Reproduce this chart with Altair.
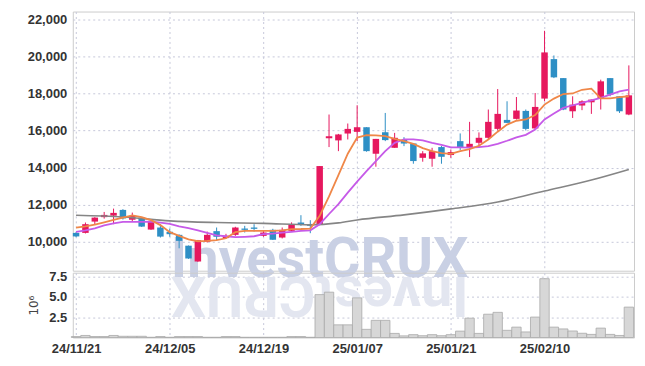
import altair as alt
import pandas as pd

# ---- data ----
tick_idx = [0, 10, 20, 30, 40, 50]
tick_lbl = ["24/11/21", "24/12/05", "24/12/19", "25/01/07", "25/01/21", "25/02/10"]
price_ticks = [10000, 12000, 14000, 16000, 18000, 20000, 22000]
vol_ticks = [2.5, 5.0, 7.5]

opens = [10480,10480,11090,11330,11410,11720,11190,11305,10660,10770,
         10540,10375,9790,8940,10000,10575,10200,10375,10715,10770,
         10320,10645,10230,10590,11040,10950,10950,15590,15470,15840,
         15930,16180,14750,15910,15070,15500,15305,14530,14480,15110,
         14680,15430,15110,15340,15610,16090,16575,16630,17060,16115,
         17725,19855,18830,17040,17350,17525,17725,18830,17850,16865]
highs = [10520,11040,11330,11610,11790,11760,11575,11330,11130,10950,
         10715,10400,9800,10100,10550,10770,10430,10810,10860,10950,
         10590,10700,10770,11050,11435,11165,14085,16865,15820,16380,
         17365,16180,15550,16950,15875,15645,15305,14890,15070,15165,
         14980,15845,16470,15900,17135,18240,17580,17810,17135,18025,
         21380,20050,18830,17850,17635,17670,18745,18830,17850,19515]
lows = [10250,10450,10950,11250,10950,11200,11100,10800,10645,10230,
        10270,9650,9080,8920,9960,10050,10170,10320,10500,10550,
        10270,10100,10180,10540,10860,10465,10900,15110,14890,15520,
        15430,14860,14050,15430,15070,15160,14210,14320,14050,14210,
        14530,14950,14570,15110,15520,16005,16415,16595,16005,16060,
        17580,18830,17100,16680,17100,16900,17135,17850,16950,16830]
closes = [10290,10950,11305,11450,11560,11260,11400,10820,11130,10280,
          10410,10050,9100,10090,10375,10270,10320,10770,10645,10700,
          10500,10110,10645,10930,10910,10860,14085,15700,15790,16090,
          16180,14890,15550,15485,15610,15300,14355,14770,14890,14585,
          14840,15070,15285,15610,16470,16900,16415,17080,16090,17275,
          20215,18870,17135,17400,17580,17670,18655,17940,17040,17900]
volume_m = [0.12,0.25,0.12,0.12,0.25,0.15,0.15,0.15,0.03,0.12,
            0.03,0.12,0.12,0.12,0.03,0.03,0.12,0.12,0.03,0.03,
            0.03,0.03,0.03,0.12,0.12,0.03,5.25,5.55,1.55,1.55,
            4.85,1.0,2.1,2.1,0.5,0.2,0.35,0.22,0.35,0.22,
            0.35,0.78,2.37,0.5,2.85,3.08,0.88,1.27,0.68,2.5,
            7.2,1.27,1.05,0.8,0.52,0.38,1.15,0.38,0.25,3.72]
ma_orange = [10770,10830,10930,11050,11180,11300,11420,11330,11170,10900,
             10520,10320,10130,10030,10050,10090,10190,10520,10590,10590,
             10590,10590,10620,10680,10690,10715,11400,12450,13600,14750,
             15620,15750,15735,15700,15555,15430,15285,15050,14890,14785,
             14740,14890,15000,15180,15520,15940,16320,16530,16600,16840,
             17400,17725,17970,18000,18200,18260,17740,17740,17800,17850]
ma_purple = [10530,10620,10730,10880,10990,11070,11080,11080,11090,11040,
             10970,10830,10735,10620,10480,10350,10300,10250,10270,10300,
             10410,10440,10500,10540,10590,10620,10950,11500,12030,12650,
             13250,13810,14355,14890,15340,15520,15520,15465,15340,15230,
             15090,15090,15080,15110,15165,15285,15450,15630,15770,16060,
             16600,16920,17220,17365,17490,17630,17760,17940,18115,18205]
gray_idx = [0, 5, 10, 15, 20, 25, 28, 30, 35, 40, 45, 50, 55, 59]
gray_val = [11430, 11340, 11130, 11040, 10995, 10915, 11020, 11180, 11450, 11775, 12150, 12740, 13330, 13900]

PINK = "#e6185e"
BLUE = "#2e8fc5"
ORANGE = "#ef8748"
PURPLE = "#c65ae8"
GRAY = "#858585"
GRID = "#c6c8da"
LABEL_FONT = "Liberation Sans"

n = len(opens)
df = pd.DataFrame({"i": list(range(n)), "open": opens, "high": highs, "low": lows,
                   "close": closes, "vol": volume_m, "ma5": ma_orange, "ma10": ma_purple})
gdf = pd.DataFrame({"i": gray_idx, "v": gray_val})
wm = pd.DataFrame({"i": [26.0], "p": [8100], "v": [7.36], "t": ["InvestCRUX"]})

label_expr = " : ".join(f"datum.value == {k} ? '{s}'" for k, s in zip(tick_idx, tick_lbl)) + " : ''"

xscale = alt.Scale(domain=[-0.35, 59.55], nice=False, zero=False, padding=0)
pscale = alt.Scale(domain=[8440, 22420], nice=False, zero=False, padding=0)
vscale = alt.Scale(domain=[0, 7.93], nice=False, padding=0)

x_axis_top = alt.Axis(values=tick_idx, labels=False, ticks=False, domain=False, title=None,
                      grid=True, gridColor=GRID, gridDash=[2, 3])
x_axis_bot = alt.Axis(values=tick_idx, labelExpr=label_expr, ticks=False, domain=False,
                      title=None, labelPadding=5, grid=True, gridColor=GRID, gridDash=[2, 3])
p_axis = alt.Axis(values=price_ticks, format=",d", title=None, ticks=False, domain=False,
                  labelPadding=6, minExtent=64, maxExtent=64, labelOverlap=False,
                  grid=True, gridColor=GRID, gridDash=[2, 3])
v_axis = alt.Axis(values=vol_ticks, format=".1f", title=None, ticks=False, domain=False,
                  labelPadding=6, minExtent=64, maxExtent=64, labelOverlap=False,
                  grid=True, gridColor=GRID, gridDash=[2, 3])

def XT(f):
    return alt.X(f, scale=xscale, axis=x_axis_top)

def XB(f):
    return alt.X(f, scale=xscale, axis=x_axis_bot)

def YP(f):
    return alt.Y(f, scale=pscale, axis=p_axis)

def YV(f):
    return alt.Y(f, scale=vscale, axis=v_axis)

color = alt.condition("datum.close >= datum.open", alt.value(PINK), alt.value(BLUE))
base = alt.Chart(df)

watermark = alt.Chart(wm).mark_text(font="Roboto", fontWeight="bold", fontSize=56,
                                    align="center", baseline="alphabetic",
                                    color="#c9d0e4").encode(x=XT("i:Q"), y=YP("p:Q"), text="t:N")

gray_line = alt.Chart(gdf).mark_line(color=GRAY, strokeWidth=1.6, interpolate="monotone").encode(
    x=XT("i:Q"), y=YP("v:Q"))

wicks = base.mark_rule(strokeWidth=1).encode(x=XT("i:Q"), y=YP("low:Q"), y2="high:Q", color=color)
bodies = base.mark_bar(size=6.5).encode(x=XT("i:Q"), y=YP("open:Q"), y2="close:Q", color=color)
line10 = base.mark_line(color=PURPLE, strokeWidth=1.8).encode(x=XT("i:Q"), y=YP("ma10:Q"))
line5 = base.mark_line(color=ORANGE, strokeWidth=1.8).encode(x=XT("i:Q"), y=YP("ma5:Q"))

price = alt.layer(watermark, wicks, bodies, gray_line, line10, line5).properties(width=563, height=260)

reflection = alt.Chart(wm).mark_text(font="Roboto", fontWeight="bold", fontSize=56, angle=180,
                                     align="center", baseline="alphabetic",
                                     color="#e3e6f0").encode(x=XB("i:Q"), y=YV("v:Q"), text="t:N")

vbars = base.mark_bar(size=9.4, fill="#d7d7d7", stroke="#aaaaaa", strokeWidth=0.8).encode(
    x=XB("i:Q"), y=YV("vol:Q"))

unit_label = alt.Chart(wm).mark_text(text="10⁶", angle=270, font="DejaVu Sans", fontSize=12,
                                     color="#444444", align="center", baseline="middle").encode(
    x=alt.value(-39), y=alt.value(33))

volp = alt.layer(reflection, vbars, unit_label).properties(width=563, height=65)

chart = alt.vconcat(price, volp, spacing=2, bounds="flush").properties(
    padding={"left": 0, "top": 2, "right": 2, "bottom": 0}
).configure_view(stroke="#cccccc", strokeWidth=1).configure_axis(
    labelFont=LABEL_FONT, labelFontSize=13, labelFontWeight="bold", labelColor="#333333"
)

chart.save("out.html", embed_options={"renderer": "svg", "actions": False})
